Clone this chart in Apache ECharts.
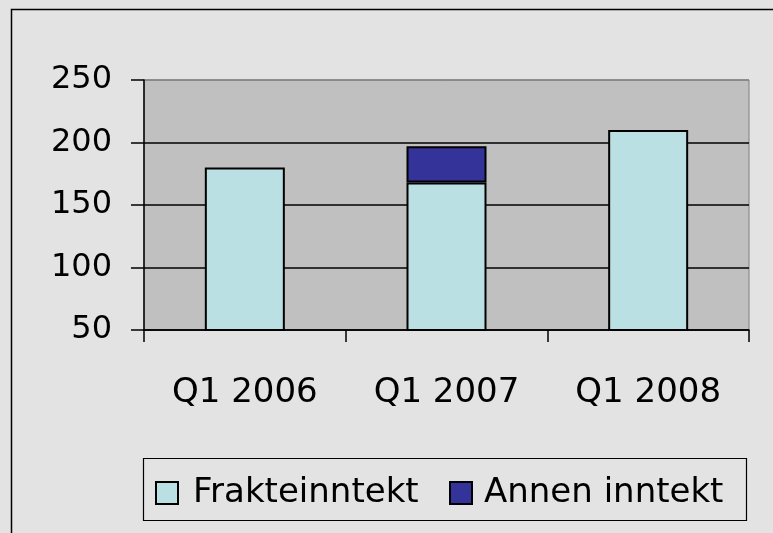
<!DOCTYPE html>
<html>
<head>
<meta charset="utf-8">
<script src="https://cdn.jsdelivr.net/npm/echarts@6/dist/echarts.min.js"></script>
<style>
  html, body { margin: 0; padding: 0; background: #e3e3e3; }
  #chart { width: 773px; height: 533px; }
</style>
</head>
<body>
<div id="chart"></div>
<script>
const categories = ["Q1 2006", "Q1 2007", "Q1 2008"];
const frakteinntekt = [180, 168, 210];
const annenInntekt = [null, 29, null];
const yTicks = [50, 100, 150, 200, 250];

const font = "DejaVu Sans";
const chart = echarts.init(document.getElementById("chart"));

// one legend per item so each entry sits where the reference has it
const legendBase = {
  orient: "horizontal",
  padding: 0,
  itemWidth: 22,
  itemHeight: 22,
  icon: "rect",
  selectedMode: false,
  top: 476,
};

chart.setOption({
  backgroundColor: "#e3e3e3",
  animation: false,
  graphic: [
    {
      type: "rect",
      shape: { x: 11.5, y: 9.5, width: 800, height: 600 },
      style: { fill: "none", stroke: "#000", lineWidth: 1.5 },
      silent: true,
    },
    {
      type: "rect",
      shape: { x: 143.5, y: 458.5, width: 603, height: 62 },
      style: { fill: "none", stroke: "#000", lineWidth: 1.2 },
      silent: true,
    },
  ],
  grid: {
    left: 144,
    right: 24,
    top: 80,
    bottom: 203,
    show: true,
    backgroundColor: "#c0c0c0",
    borderColor: "#808080",
    borderWidth: 1,
  },
  legend: [
    Object.assign({}, legendBase, {
      left: 155,
      data: ["Frakteinntekt"],
      textStyle: { fontFamily: font, fontSize: 34, color: "#000", lineHeight: 22, padding: [2, 0, 0, 10] },
    }),
    Object.assign({}, legendBase, {
      left: 449,
      data: ["Annen inntekt"],
      textStyle: { fontFamily: font, fontSize: 34, color: "#000", lineHeight: 22, padding: [2, 0, 0, 7] },
    }),
  ],
  xAxis: {
    type: "category",
    data: categories,
    axisLine: { lineStyle: { color: "#000", width: 1.5 } },
    axisTick: { show: true, length: 12, lineStyle: { color: "#000", width: 1.5 } },
    axisLabel: { fontFamily: font, fontSize: 34, color: "#000", margin: 46 },
  },
  yAxis: {
    type: "value",
    min: 50,
    max: 250,
    interval: 50,
    axisLine: { show: true, lineStyle: { color: "#000", width: 1.5 } },
    axisTick: { show: true, length: 13, lineStyle: { color: "#000", width: 1.5 } },
    axisLabel: {
      fontFamily: font,
      fontSize: 32,
      color: "#000",
      margin: 32,
      formatter: (v) => (yTicks.includes(v) ? String(v) : ""),
    },
    splitLine: {
      lineStyle: { color: ["#000", "#000", "#000", "#000", "#808080"], width: 1.5 },
    },
  },
  series: [
    {
      name: "Frakteinntekt",
      type: "bar",
      stack: "total",
      data: frakteinntekt,
      barWidth: 80,
      itemStyle: { color: "#bbe0e3", borderColor: "#000", borderWidth: 2 },
    },
    {
      name: "Annen inntekt",
      type: "bar",
      stack: "total",
      data: annenInntekt,
      barWidth: 80,
      itemStyle: { color: "#333399", borderColor: "#000", borderWidth: 2 },
    },
  ],
});
</script>
</body>
</html>
